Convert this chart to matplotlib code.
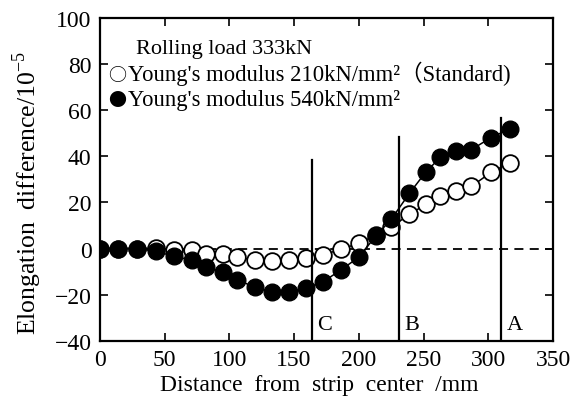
import numpy as np
import matplotlib
matplotlib.use('Agg')
import matplotlib.pyplot as plt

plt.rcParams['font.family'] = ['Liberation Serif', 'Noto Sans CJK JP', 'DejaVu Serif']
plt.rcParams['mathtext.fontset'] = 'custom'
plt.rcParams['mathtext.rm'] = 'Liberation Serif'

###########################################################################
# data
dist_mm = [0, 14, 29, 43, 57, 71, 82, 95, 106, 120, 133, 146, 159, 172,
           186, 200, 213, 225, 239, 252, 263, 275, 287, 302, 317]

e210 = [0, 0, 0, 0.2, -0.7, -0.7, -2.4, -2.4, -3.7, -5.0, -5.4, -5.0, -4.1, -2.8,
        -0.3, 2.3, 5.8, 9.2, 14.9, 19.2, 22.6, 24.8, 27.0, 33.0, 37.3]
e540 = [0, 0, 0, -1.1, -3.3, -5.0, -8.0, -10.2, -13.6, -16.7, -18.8, -18.8, -17.1, -14.5,
        -9.3, -3.7, 5.4, 12.7, 23.9, 33.4, 39.5, 42.5, 42.9, 48.1, 52.0]

# position lines: x, top of line, label
line_x = [164, 231, 310]
line_top = [38.5, 48.5, 56.5]
line_lbl = ['C', 'B', 'A']

###########################################################################
fig = plt.figure(figsize=(5.84, 4.10), dpi=100)
ax = fig.add_axes([0.171, 0.166, 0.776, 0.788])

ax.axhline(0, color='black', lw=1.3, ls=(0, (5, 3.5)), zorder=1)

ax.plot(dist_mm, e210, 'o-', color='black', lw=1.1, ms=12,
        mfc='white', mec='black', mew=1.3, zorder=3)
ax.plot(dist_mm, e540, 'o-', color='black', lw=1.1, ms=12,
        mfc='black', mec='black', zorder=4)

for x, top, lbl in zip(line_x, line_top, line_lbl):
    ax.plot([x, x], [-40, top], color='black', lw=1.6, zorder=5)
    ax.text(x + 4, -33, lbl, fontsize=16, va='center', ha='left')

# legend written as text, symbols from the Japanese font
ax.text(0.08, 0.892, 'Rolling load 333kN', transform=ax.transAxes, fontsize=16)
ax.text(0.018, 0.807, '○', transform=ax.transAxes, fontsize=13,
        family='Noto Sans CJK JP')
ax.text(0.062, 0.807, 'Young\'s modulus 210kN/mm²（Standard)',
        transform=ax.transAxes, fontsize=16.3)
ax.text(0.018, 0.729, '●', transform=ax.transAxes, fontsize=13,
        family='Noto Sans CJK JP')
ax.text(0.062, 0.729, 'Young\'s modulus 540kN/mm²',
        transform=ax.transAxes, fontsize=16.3)

ax.set_xlim(0, 350)
ax.set_ylim(-40, 100)
ax.set_xticks(np.arange(0, 351, 50))
ax.set_yticks(np.arange(-40, 101, 20))
ax.tick_params(direction='in', top=True, right=True, length=6, width=1.2,
               labelsize=17, pad=6)
for s in ax.spines.values():
    s.set_linewidth(1.6)

fig.text(0.546, 0.06, 'Distance  from  strip  center  /mm', fontsize=17,
         ha='center', va='center')
fig.text(0.046, 0.53, 'Elongation  difference/10$^{-5}$', fontsize=18.5,
         ha='center', va='center', rotation=90)

plt.savefig('out.png', dpi=100)
